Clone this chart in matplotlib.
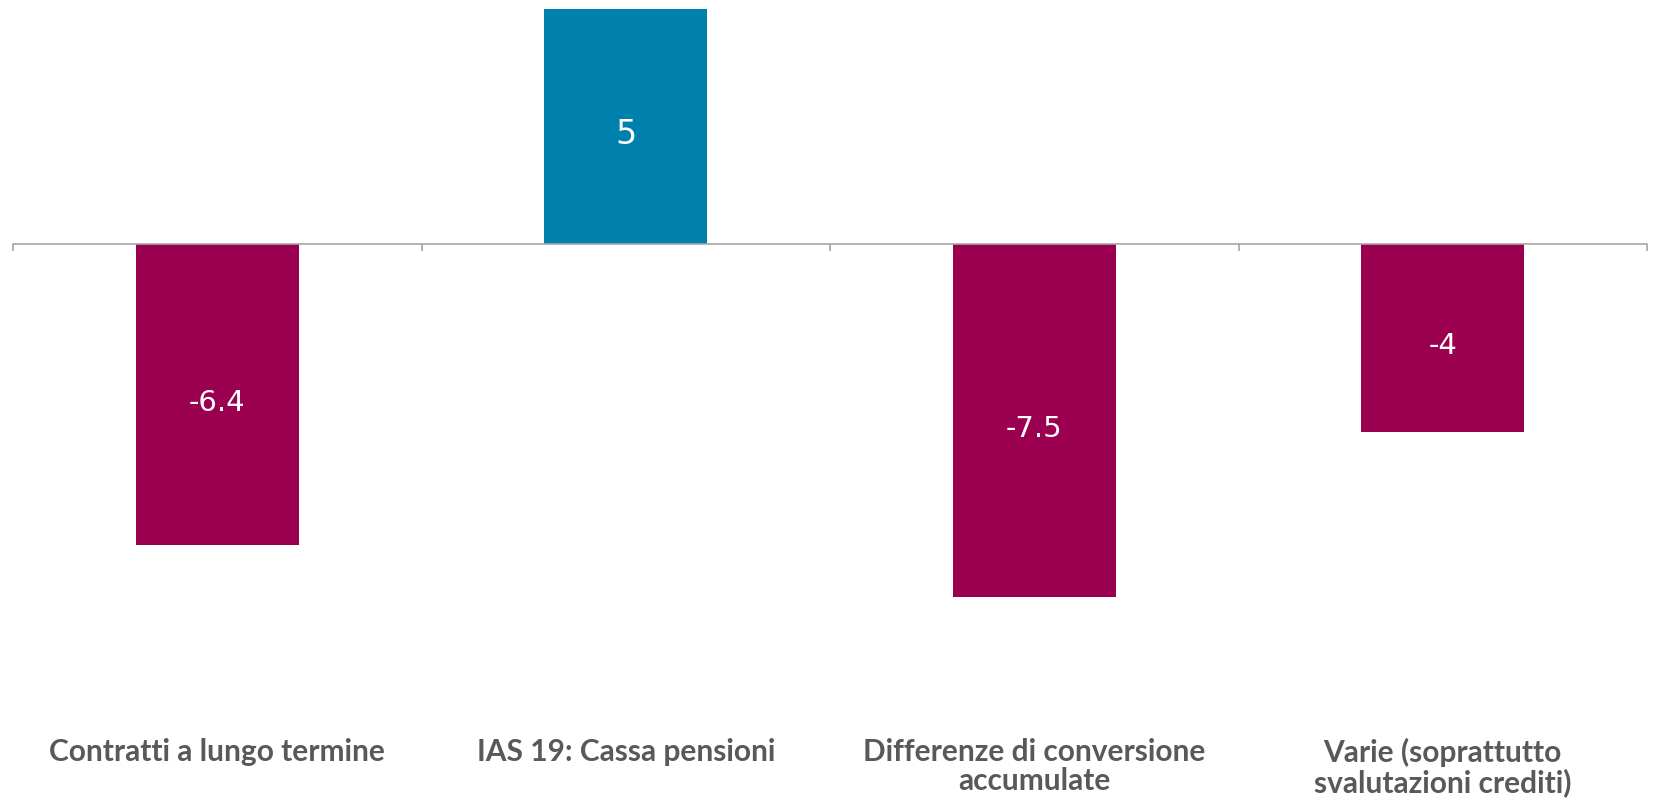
import matplotlib
matplotlib.use("Agg")
import matplotlib.pyplot as plt
import matplotlib.transforms as mtransforms
import numpy as np

categories = [
    "Contratti a lungo termine",
    "IAS 19: Cassa pensioni",
    "Differenze di conversione\naccumulate",
    "Varie (soprattutto\nsvalutazioni crediti)",
]
values = [-6.4, 5, -7.5, -4]
value_labels = ["-6.4", "5", "-7.5", "-4"]

POS = "#0080AC"
NEG = "#9B0050"
AXIS = "#A6A6A6"
TEXT = "#595959"

fig = plt.figure(figsize=(16.53, 7.99), dpi=100)
ax = fig.add_axes([13 / 1653, 1 - 620 / 799, 1634 / 1653, 611 / 799])

x = np.arange(len(categories))
colors = [POS if v > 0 else NEG for v in values]
ax.bar(x, values, width=0.4, color=colors, zorder=2)
ax.set_xlim(-0.5, len(categories) - 0.5)
ax.set_ylim(-8, 5)

for s in ["top", "right", "left"]:
    ax.spines[s].set_visible(False)
ax.spines["bottom"].set_position(("data", 0))
ax.spines["bottom"].set_color(AXIS)
ax.spines["bottom"].set_linewidth(1.2)
ax.spines["bottom"].set_zorder(3)
ax.set_yticks([])
ax.set_xticks(np.arange(len(categories) + 1) - 0.5)
ax.set_xticklabels([])
ax.tick_params(axis="x", direction="out", length=5, width=1.2, color=AXIS)

for xi, v, lab in zip(x, values, value_labels):
    size = 24 if v > 0 else 21
    ax.annotate(lab, (xi, v / 2), xytext=(0, -6), textcoords="offset points",
                ha="center", va="center", color="white",
                fontsize=size, family="DejaVu Sans")

trans = mtransforms.blended_transform_factory(ax.transData, fig.transFigure)
for xi, cat in zip(x, categories):
    ax.text(xi, 1 - 738 / 799, cat, transform=trans, ha="center", va="top",
            fontsize=21.5, fontweight="bold", color=TEXT, family="Lato",
            multialignment="center", linespacing=1.05)

fig.savefig("out.png", dpi=100)
